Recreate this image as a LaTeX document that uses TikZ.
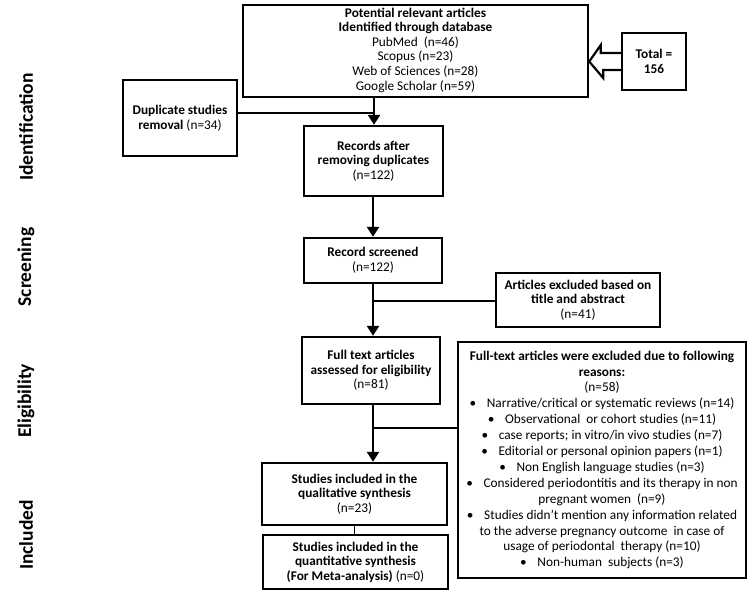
\documentclass[tikz,border=0pt]{standalone}
\usepackage{fontspec}
\setmainfont{Carlito}
\usetikzlibrary{arrows.meta,calc}
\begin{document}
\begin{tikzpicture}[x=1pt,y=-1pt,
  box/.style={draw,line width=2.4pt,rectangle,inner sep=1pt,align=center,
    font={\fontsize{13.3}{14.6}\selectfont}},
  arr/.style={line width=2.6pt,-{Triangle[width=12pt,length=10pt]}},
  branch/.style={line width=1.3pt},
  phase/.style={rotate=90,font={\fontsize{19.5}{22}\selectfont\bfseries}}]
\useasboundingbox (0,0) rectangle (750,596);

% phase labels
\node[phase] (lid) at (26,127) {Identification};
\node[phase] (lsc) at (26,267) {Screening};
\node[phase] (lel) at (26,401) {Eligibility};
\node[phase] (lin) at (26,535) {Included};

% boxes
\node[box,minimum width=345pt,minimum height=92pt,text depth=4pt] (top) at (415.5,51)
  {\textbf{Potential relevant articles}\\\textbf{Identified through database}\\PubMed\ \ (n=46)\\Scopus (n=23)\\Web of Sciences (n=28)\\Google Scholar (n=59)};
\node[box,minimum width=64pt,minimum height=57pt] (total) at (654,61.5)
  {\textbf{Total =}\\\textbf{156}};
\node[box,minimum width=114pt,minimum height=76pt] (dup) at (180,118)
  {\textbf{Duplicate studies}\\\textbf{removal} (n=34)};
\node[box,minimum width=139pt,minimum height=70pt] (rec) at (373.5,161)
  {\textbf{Records after}\\\textbf{removing duplicates}\\(n=122)};
\node[box,minimum width=138pt,minimum height=45pt] (scr) at (373,260.5)
  {\textbf{Record screened}\\(n=122)};
\node[box,minimum width=164pt,minimum height=54pt] (ex1) at (578,300)
  {\textbf{Articles excluded based on}\\\textbf{title and abstract}\\(n=41)};
\node[box,minimum width=138pt,minimum height=67pt] (full) at (371,370.5)
  {\textbf{Full text articles}\\\textbf{assessed for eligibility}\\(n=81)};
\node[box,minimum width=288pt,minimum height=236pt,
  font={\fontsize{13.3}{15.9}\selectfont}] (ex2) at (602,460)
  {\textbf{Full-text articles were excluded due to following}\\
   \textbf{reasons:}\\
   (n=58)\\
   •\hspace{0.8em}Narrative/critical or systematic reviews (n=14)\\
   •\hspace{0.8em}Observational\ \ or cohort studies (n=11)\\
   •\hspace{0.8em}case reports;\ in vitro/in vivo studies (n=7)\\
   •\hspace{0.8em}Editorial or personal opinion papers (n=1)\\
   •\hspace{0.8em}Non English language studies (n=3)\\
   •\hspace{0.8em}Considered periodontitis\ and its therapy in non\\
   pregnant women\ \ (n=9)\\
   •\hspace{0.8em}Studies didn’t mention any information related\\
   to the adverse pregnancy outcome\ \ in case of\\
   usage of periodontal\ \ therapy (n=10)\\
   •\hspace{0.8em}Non-human\ \ subjects (n=3)};
\node[box,minimum width=185pt,minimum height=62pt] (qual) at (354.5,494)
  {\textbf{Studies included in the}\\\textbf{qualitative synthesis}\\(n=23)};
\node[box,minimum width=185pt,minimum height=54pt] (quant) at (355.5,562)
  {\textbf{Studies included in the}\\\textbf{quantitative synthesis}\\\textbf{(For Meta-analysis)} (n=0)};

% junction points on the main trunk
\coordinate (j1) at (374,113);
\coordinate (j2) at (373,301);
\coordinate (j3) at (373,428);

% connectors
\draw[arr] (top.south -| j1) -- (rec.north -| j1);
\draw[branch] (dup.east |- j1) -- (j1);
\draw[arr] (rec.south -| j2) -- (scr.north -| j2);
\draw[arr] (scr.south -| j2) -- (full.north -| j2);
\draw[branch] (j2) -- (ex1.west |- j2);
\draw[arr] (full.south -| j3) -- (qual.north -| j3);
\draw[branch] (j3) -- (ex2.west |- j3);
\draw[line width=1.8pt] (qual.south) -- (qual.south |- quant.north);

% block arrow from Total to top box
\draw[line width=2.2pt,line join=miter,fill=white]
  ($(total.west)+(0,-8.5)$) -- ++(-20,0) -- ++(0,-8) -- (top.east |- total.west)
  -- ++(14,16.5) -- ++(0,-8) -- ($(total.west)+(0,8.5)$);
\end{tikzpicture}
\end{document}
